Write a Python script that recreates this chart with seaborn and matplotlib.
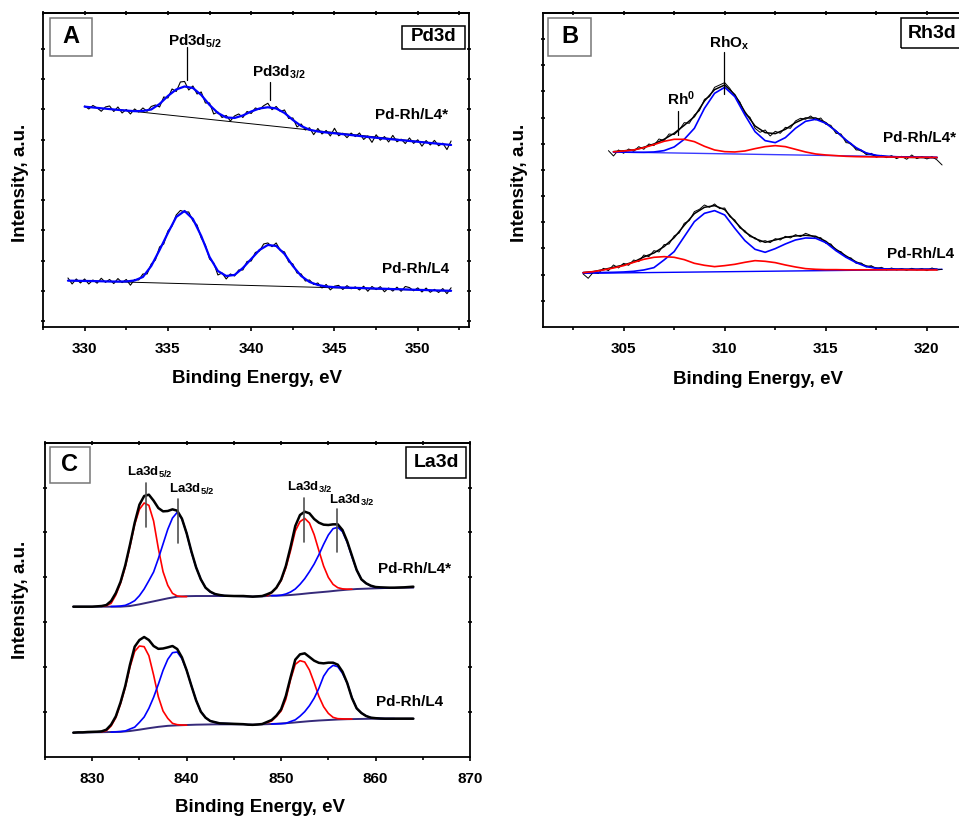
import numpy as np
import matplotlib
matplotlib.use('Agg')
import matplotlib.pyplot as plt
import seaborn as sns
from matplotlib.patches import Rectangle

# ---------------- Panel A: Pd3d ----------------
pd_e_raw_star = np.arange(330, 352.01, 0.25)
pd_raw_star = [221, 218, 221.5, 219, 215.7, 220, 221, 215.5, 220, 214,
               217.5, 213, 218, 215, 219, 215.7, 220.5, 222, 220, 230,
               229, 238, 235.5, 245, 245.5, 237, 241, 233, 235, 224,
               224, 213, 215, 209.5, 211.5, 206, 211, 213, 209.5, 215.5,
               213.5, 219, 217.5, 221.3, 223.7, 217.3, 220.5, 215.5, 217, 208.5,
               209, 200, 203, 197, 199.2, 192.3, 198.5, 193, 196.5, 191,
               198.7, 191.2, 193.8, 189.3, 193.9, 190.4, 194, 187.5, 191, 184.6,
               192.2, 186.8, 190.4, 185, 191.6, 185.2, 187.8, 183.4, 189, 183.6,
               187.2, 180.8, 186.4, 182, 186.6, 181.2, 183.8, 177.4, 186]
pd_e_fit_star = np.arange(330, 352.01, 0.5)
pd_fit_star = [220.3, 219.5, 218.7, 217.9, 217.1, 216.4, 215.8, 216.0, 217.5, 223,
               231, 237.5, 240.5, 239, 232, 222, 214, 209.5, 209, 211.5,
               215.5, 218.5, 219.7, 218.5, 214, 207, 201, 197.2, 195.5, 194.5,
               193.7, 192.8, 191.9, 191, 190, 189.2, 188.4, 187.6, 186.8, 186,
               185.2, 184.4, 183.6, 182.8, 182]
pd_base_star_e = [332, 352]
pd_base_star = [217.3, 182]

pd_e_raw = np.arange(329, 352.01, 0.25)
pd_raw = [49, 43, 48, 44, 48, 43, 47, 43.8, 48.7, 44.6,
          47.5, 43.4, 48.4, 44.4, 47.5, 41.8, 47.5, 47, 53, 53,
          63, 67, 80, 83, 96, 101, 112, 116.5, 115, 115,
          106, 102, 89, 82, 68, 64, 52, 54, 48, 53,
          51, 57, 57, 65.5, 66, 74.5, 76, 83, 84, 80.3,
          84, 76.5, 75, 65, 63, 54, 53, 46, 47, 42.5,
          44, 39, 42.5, 37.1, 40.8, 41.6, 37.5, 41.3, 38.2, 40.1,
          37, 40.8, 35.7, 40.5, 37.4, 40.3, 35.2, 39, 35.9, 39.8,
          35.7, 40.5, 39.4, 36.2, 39.1, 35, 38.9, 34.7, 37.6, 34.5,
          38.4, 33.3, 39.2]
pd_e_fit = np.arange(329, 352.01, 0.5)
pd_fit = [46.3, 46.2, 46, 45.9, 45.7, 45.5, 45.4, 45.5, 46.5, 50,
          61, 77, 94, 110, 116, 108, 91, 70, 56, 51,
          52, 59, 68, 77, 82, 81, 73, 61, 51, 45,
          42, 40.5, 39.8, 39.5, 39.2, 39, 38.7, 38.4, 38.2, 37.9,
          37.7, 37.4, 37.1, 36.9, 36.6, 36.4, 36.2]
pd_base_e = [329, 352]
pd_base = [46.5, 36]

# ---------------- Panel B: Rh3d ----------------
rh_e_raw_star = np.arange(304.25, 320.76, 0.25)
rh_raw_star = [548, 532, 550, 540, 553, 546, 560, 552, 568, 563,
               583, 578, 598, 596, 610, 632, 630, 655, 668, 702,
               710, 738, 745, 752, 735, 712, 694, 659, 648, 615,
               603, 610, 592, 606, 600, 618, 615, 637, 645, 642,
               652, 640, 646, 627, 624, 600, 598, 572, 570, 550,
               550, 536, 540, 528, 534, 527, 533, 524, 531, 522,
               535, 524, 530, 523, 530, 520, 505]
rh_e_fit_star = np.arange(304.5, 320.51, 0.5)
rh_env_star = [545, 547.5, 550, 558, 568, 582, 600, 624, 650, 697,
               731, 745, 716, 664, 622, 602, 599, 612, 632, 646,
               646, 632, 607, 579, 555, 540, 533, 530, 528.5, 528,
               527.5, 527, 526.5]
rh_blue_star = [544, 543.5, 543, 543, 544, 548, 559, 582, 615, 675,
                720, 738, 710, 655, 605, 578, 572, 587, 615, 636,
                642, 630, 607, 580, 557, 541, 534, 531, 529.5, 529,
                528.5, 528, 527.7]
rh_red_star = [544.5, 547, 550, 557, 566, 576, 582, 582, 575, 561,
               550, 545, 544, 547, 554, 560, 563, 560, 552, 544,
               538, 535, 533, 531, 530, 529.5, 529, 529, 528.5, 528,
               528, 528, 527.5]
rh_base_star_e = [304.5, 320.5]
rh_base_star = [544, 528]

rh_e_raw = np.arange(303, 320.76, 0.25)
rh_raw = [178, 165, 183, 180, 195, 188, 205, 196, 210, 204,
          220, 215, 235, 230, 248, 244, 266, 268, 292, 301,
          330, 338, 365, 372, 385, 378, 388, 374, 376, 350,
          340, 316, 308, 290, 287, 274, 278, 272, 284, 280,
          291, 286, 296, 290, 300, 294, 286, 287, 270, 268,
          248, 245, 228, 226, 210, 211, 199, 203, 193, 198,
          190, 196, 190, 194, 189, 195, 190, 194, 188, 196,
          190, 192]
rh_e_fit = np.arange(303, 320.51, 0.5)
rh_env = [182, 185, 191, 198, 205, 214, 229, 241, 260, 287,
          324, 359, 378, 383, 371, 336, 304, 284, 273, 280,
          288, 292, 294, 291, 276, 252, 232, 214, 202, 196,
          193, 192.5, 192, 192, 192, 192]
rh_blue = [182, 182, 182.5, 183, 184, 186, 190, 197, 220, 245,
           290, 335, 360, 368, 355, 315, 278, 252, 243, 254,
           268, 280, 286, 285, 272, 248, 228, 212, 200, 195,
           193, 192.5, 192, 192, 192, 192]
rh_red = [182, 185, 190, 196, 203, 213, 222, 228, 230, 228,
          221, 210, 204, 200, 203, 207, 213, 218, 216, 212,
          205, 199, 194, 192, 191, 191, 190.5, 190.5, 190.5, 190.5,
          190.5, 190.5, 190.5, 190, 190, 190]
rh_base_e = [303, 320.75]
rh_base = [180, 192]

# ---------------- Panel C: La3d ----------------
la_e_env = np.arange(828, 864.01, 0.5)
la_e_base = np.arange(828, 864.01, 1.0)
la_e_red1 = np.arange(831, 840.01, 0.5)
la_e_blue1 = np.arange(832, 845.01, 0.5)
la_e_red2 = np.arange(848.5, 857.51, 0.5)
la_e_blue2 = np.arange(849, 862.01, 0.5)

la_env_star = [540, 540, 540, 540, 540, 541, 542, 545, 557, 581,
               615, 664, 726, 792, 846, 872, 876, 858, 836, 826,
               827, 832, 828, 804, 760, 706, 658, 622, 597, 585,
               578, 575, 573, 572.5, 572, 572, 572, 571, 570, 571,
               572, 577, 583, 597, 621, 662, 719, 782, 815, 825,
               820, 803, 792, 786, 785, 787, 787, 770, 736, 693,
               650, 622, 610, 603, 599, 598, 597.5, 597, 597, 597.5,
               598, 599, 600]
la_base_star = [540, 540, 540, 540, 540, 540, 542, 547, 553, 559,
                565, 570, 571.5, 572, 572, 572, 572, 572, 571, 570.5,
                571, 573, 573.5, 575, 577.5, 580.5, 583, 585.5, 588.5, 591,
                593, 594, 595, 596, 596.5, 597, 597]
la_red1_star = [541, 543, 550, 575, 611, 659, 721, 787, 832, 851,
                844, 797, 715, 645, 604, 580, 572, 570.5, 570]
la_blue1_star = [540.5, 541, 542, 544, 550, 558, 573, 593, 618, 644,
                 684, 728, 772, 806, 823, 804, 760, 704, 658, 622,
                 597, 584, 577, 574, 573, 572.5, 572]
la_red2_star = [572.5, 582, 596, 618, 656, 708, 767, 795, 805, 791,
                756, 708, 662, 628, 607, 597, 593.5, 592.5, 592.5]
la_blue2_star = [573, 573, 574.5, 578, 584, 593, 607, 624, 645, 668,
                 696, 727, 755, 774, 778, 765, 733, 690, 650, 622,
                 610, 602, 598.5, 597, 596.5, 596, 596]

la_env = [162, 163, 163, 164, 164.5, 165, 166, 171, 186, 211,
          252, 302, 366, 420, 440, 449, 440, 422, 413.5, 414.5,
          418, 422, 413, 388, 349, 303, 259, 225, 207, 197,
          193.5, 190, 189.5, 189, 188.5, 188, 187.5, 186, 185.5, 186.5,
          188, 194, 200, 213, 232, 272, 328, 381, 397, 400,
          389, 378, 371.5, 370, 372, 372, 366, 345, 311, 266,
          235, 221, 212, 207, 205.5, 204.5, 204, 204, 204, 204,
          204, 204, 204]
la_base = [162, 162.5, 163, 163.5, 164, 164.5, 167, 171, 175.5, 179.5,
           182.5, 184, 185, 186, 186.5, 187, 187, 187, 187, 186,
           187, 188, 189.5, 191.5, 194, 196.5, 198.5, 200, 201.5, 202.5,
           203, 203.5, 204, 204, 204, 204, 204]
la_red1 = [164.5, 168, 182, 207, 248, 298, 359, 406, 422, 420,
           393, 335, 270, 227, 205, 190, 186, 185, 184.5]
la_blue1 = [163.5, 164.5, 165.5, 167, 173, 178.5, 193, 209, 235, 268,
            307, 349, 382, 402, 404, 384, 349, 303, 259, 225,
            207, 197, 193, 190, 189.5, 189, 188.5]
la_red2 = [192, 197, 211, 227, 262, 321, 367, 378, 374, 350,
           312, 271, 240, 220, 208, 204, 203.5, 203, 203]
la_blue2 = [188, 188.5, 189, 190, 195.5, 200.5, 211.5, 225, 243, 265.5,
            295, 331.5, 352.5, 364, 360, 340, 311, 267, 235, 221,
            212, 207, 205.5, 204.5, 204, 204, 204]

sns.set_theme(style='ticks')
plt.rcParams['font.family'] = ['Liberation Sans', 'DejaVu Sans']
plt.rcParams['font.weight'] = 'bold'
plt.rcParams['mathtext.fontset'] = 'custom'
plt.rcParams['mathtext.rm'] = 'Liberation Sans:bold'
plt.rcParams['mathtext.it'] = 'Liberation Sans:bold'
plt.rcParams['mathtext.bf'] = 'Liberation Sans:bold'
plt.rcParams['axes.linewidth'] = 1.3
plt.rcParams['axes.edgecolor'] = 'black'
plt.rcParams['text.color'] = 'black'
plt.rcParams['axes.labelcolor'] = 'black'
plt.rcParams['xtick.color'] = 'black'
plt.rcParams['ytick.color'] = 'black'

RED = '#ff0000'
BLUE = '#0000ff'


def line(ax, x, y, color, lw):
    sns.lineplot(x=x, y=y, ax=ax, color=color, linewidth=lw,
                 sort=False, estimator=None, legend=False)


def frame(ax, xlim, ylim, major, minor, yticks, ylab_xy, xlab_xy):
    ax.set_xlim(*xlim)
    ax.set_ylim(*ylim)
    ax.set_xticks(major)
    ax.set_xticks(minor, minor=True)
    ax.set_xticklabels([str(int(v)) for v in major])
    ax.set_yticks(yticks)
    ax.set_yticklabels([])
    ax.tick_params(axis='x', which='major', direction='out', length=3,
                   width=1.2, labelsize=11, pad=8, colors='black')
    ax.tick_params(axis='x', which='minor', direction='out', length=2, width=1.2)
    ax.tick_params(axis='y', which='major', direction='inout', length=3,
                   width=1.2, left=True, right=True)
    for lab in ax.get_xticklabels():
        lab.set_fontweight('bold')
    top = ax.secondary_xaxis('top')
    top.set_xticks(major)
    top.set_xticks(minor, minor=True)
    top.tick_params(which='both', direction='inout', length=2.5, width=1.2,
                    labeltop=False)
    ax.set_xlabel('')
    ax.set_ylabel('')
    ax.text(*ylab_xy, 'Intensity, a.u.', transform=ax.transAxes, rotation=90,
            rotation_mode='anchor', ha='center', va='baseline',
            fontsize=13.5, fontweight='bold')
    ax.text(*xlab_xy, 'Binding Energy, eV', transform=ax.transAxes,
            ha='center', va='baseline', fontsize=13.5, fontweight='bold')


def boxed(ax, x0, y0, w, h, tx, ty, s, size, edge):
    ax.add_patch(Rectangle((x0, y0), w, h, transform=ax.transAxes,
                           fill=False, edgecolor=edge, linewidth=1.1, zorder=5))
    ax.text(tx, ty, s, transform=ax.transAxes, ha='center', va='center',
            fontsize=size, fontweight='bold', zorder=6)


fig = plt.figure(figsize=(9.59, 8.16), dpi=100)

# ---- A ----
axA = fig.add_axes([0.0448, 0.5993, 0.4447, 0.3848])
line(axA, pd_base_star_e, pd_base_star, 'black', 0.7)
line(axA, pd_base_e, pd_base, 'black', 0.7)
line(axA, pd_e_raw_star, pd_raw_star, 'black', 0.8)
line(axA, pd_e_raw, pd_raw, 'black', 0.8)
line(axA, pd_e_fit_star, pd_fit_star, BLUE, 1.6)
line(axA, pd_e_fit, pd_fit, BLUE, 1.6)
frame(axA, (327.95, 353.1), (0, 314), [330, 335, 340, 345, 350],
      np.arange(327.5, 353.1, 2.5), np.linspace(6, 278, 10),
      (-0.0422, 0.4586), (0.501, -0.1793))
axA.text(335.0, 281.5, 'Pd3d$_{5/2}$', fontsize=11, fontweight='bold', va='baseline')
axA.plot([336.15, 336.15], [280, 247], color='black', lw=0.9)
axA.text(340.06, 250.5, 'Pd3d$_{3/2}$', fontsize=11, fontweight='bold', va='baseline')
axA.plot([341.1, 341.1], [245, 227], color='black', lw=0.9)
axA.text(351.85, 207.5, 'Pd-Rh/L4*', fontsize=11, fontweight='bold', ha='right', va='baseline')
axA.text(351.9, 53.5, 'Pd-Rh/L4', fontsize=11, fontweight='bold', ha='right', va='baseline')
boxed(axA, 0.0164, 0.863, 0.0985, 0.121, 0.0657, 0.924, 'A', 17, '#777777')
boxed(axA, 0.8417, 0.885, 0.1477, 0.0732, 0.9156, 0.9236, 'Pd3d', 13.5, 'black')

# ---- B ----
axB = fig.add_axes([0.5659, 0.5993, 0.4445, 0.3848])
line(axB, rh_base_star_e, rh_base_star, '#3a3aff', 1.0)
line(axB, rh_base_e, rh_base, BLUE, 1.0)
line(axB, rh_e_raw_star, rh_raw_star, 'black', 0.7)
line(axB, rh_e_raw, rh_raw, 'black', 0.7)
line(axB, rh_e_fit_star, rh_env_star, 'black', 1.1)
line(axB, rh_e_fit, rh_env, 'black', 1.1)
line(axB, rh_e_fit_star, rh_blue_star, BLUE, 1.2)
line(axB, rh_e_fit, rh_blue, BLUE, 1.2)
line(axB, rh_e_fit_star, rh_red_star, RED, 1.2)
line(axB, rh_e_fit, rh_red, RED, 1.2)
frame(axB, (301.0, 322.08), (19, 961), [305, 310, 315, 320],
      np.arange(302.5, 322.1, 2.5), np.linspace(19, 961, 13)[1:-1],
      (-0.0439, 0.4586), (0.5058, -0.1815))
axB.text(309.24, 857.5, 'RhO$_{x}$', fontsize=11, fontweight='bold', va='baseline')
axB.plot([309.96, 309.96], [844, 718], color='black', lw=0.9)
axB.text(307.16, 683.5, 'Rh$^{0}$', fontsize=11, fontweight='bold', va='baseline')
axB.plot([307.67, 307.67], [667, 595], color='black', lw=0.9)
axB.text(317.84, 572.5, 'Pd-Rh/L4*', fontsize=11, fontweight='bold', va='baseline')
axB.text(318.04, 224.5, 'Pd-Rh/L4', fontsize=11, fontweight='bold', va='baseline')
boxed(axB, 0.0124, 0.863, 0.1009, 0.121, 0.0629, 0.924, 'B', 17, '#777777')
boxed(axB, 0.8398, 0.8876, 0.1508, 0.0955, 0.913, 0.936, 'Rh3d', 14, 'black')

# ---- C ----
axC = fig.add_axes([0.0469, 0.0727, 0.4432, 0.3848])
line(axC, la_e_base, la_base_star, '#362a7a', 1.4)
line(axC, la_e_base, la_base, '#362a7a', 1.4)
line(axC, la_e_red1, la_red1_star, RED, 1.2)
line(axC, la_e_red2, la_red2_star, RED, 1.2)
line(axC, la_e_blue1, la_blue1_star, BLUE, 1.2)
line(axC, la_e_blue2, la_blue2_star, BLUE, 1.2)
line(axC, la_e_red1, la_red1, RED, 1.2)
line(axC, la_e_red2, la_red2, RED, 1.2)
line(axC, la_e_blue1, la_blue1, BLUE, 1.2)
line(axC, la_e_blue2, la_blue2, BLUE, 1.2)
line(axC, la_e_env, la_env_star, 'black', 1.8)
line(axC, la_e_env, la_env, 'black', 1.8)
frame(axC, (825, 870), (90, 1032), [830, 840, 850, 860, 870],
      np.arange(825, 870.1, 5), np.linspace(90, 1032, 8)[1:-1],
      (-0.047, 0.4997), (0.5059, -0.175))
for lx, ly, s in [(833.7, 932, 'La3d$_{5/2}$'), (838.1, 882, 'La3d$_{5/2}$'),
                  (850.6, 887, 'La3d$_{3/2}$'), (855.1, 847, 'La3d$_{3/2}$')]:
    axC.text(lx, ly, s, fontsize=9.5, fontweight='bold', va='baseline')
for mx, y1, y2 in [(835.7, 911, 779), (839.05, 863, 732),
                   (852.4, 865, 735), (855.9, 832, 705)]:
    axC.plot([mx, mx], [y1, y2], color='#505050', lw=1.2)
axC.text(860.3, 640, 'Pd-Rh/L4*', fontsize=11, fontweight='bold', va='baseline')
axC.text(860.0, 242, 'Pd-Rh/L4', fontsize=11, fontweight='bold', va='baseline')
boxed(axC, 0.0118, 0.8717, 0.094, 0.1146, 0.0588, 0.929, 'C', 17, '#777777')
boxed(axC, 0.8494, 0.8876, 0.1412, 0.0987, 0.92, 0.9353, 'La3d', 14, 'black')

fig.savefig('out.png', dpi=100)
